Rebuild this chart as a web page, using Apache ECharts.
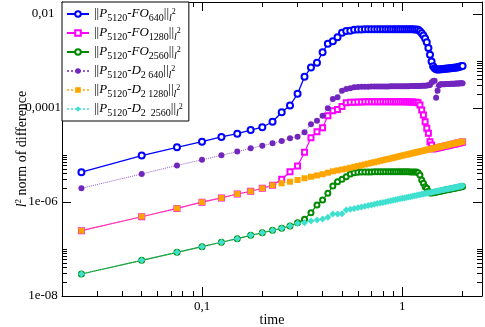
<!DOCTYPE html>
<html>
<head>
<meta charset="utf-8">
<script src="https://cdn.jsdelivr.net/npm/echarts@6/dist/echarts.min.js"></script>
<style>
  html, body { margin: 0; padding: 0; background: #fff; }
  #chart { width: 485px; height: 327px; }
</style>
</head>
<body>
<div id="chart"></div>
<script>
// time steps (dt = 0.025)
const times = [0.025, 0.05, 0.075, 0.1, 0.125, 0.15, 0.175, 0.2, 0.225, 0.25,
  0.275, 0.3, 0.325, 0.35, 0.375, 0.4, 0.425, 0.45, 0.475, 0.5,
  0.525, 0.55, 0.575, 0.6, 0.625, 0.65, 0.675, 0.7, 0.725, 0.75,
  0.775, 0.8, 0.825, 0.85, 0.875, 0.9, 0.925, 0.95, 0.975, 1.0,
  1.025, 1.05, 1.075, 1.1, 1.125, 1.15, 1.175, 1.2, 1.225, 1.25,
  1.275, 1.3, 1.325, 1.35, 1.375, 1.4, 1.425, 1.45, 1.475, 1.5,
  1.525, 1.55, 1.575, 1.6, 1.625, 1.65, 1.675, 1.7, 1.725, 1.75,
  1.775, 1.8, 1.825, 1.85, 1.875, 1.9, 1.925, 1.95, 1.975, 2.0];

const fo640 = [4.3e-6, 9.7e-6, 1.46e-5, 1.92e-5, 2.42e-5, 2.84e-5, 3.4e-5, 3.9e-5, 5.1e-5, 8.1e-5,
  1.13e-4, 2.0e-4, 4.6e-4, 7.3e-4, 9.2e-4, 1.53e-3, 2.33e-3, 2.62e-3, 3.19e-3, 4.0e-3,
  4.35e-3, 4.4e-3, 4.6e-3, 4.68e-3, 4.7e-3, 4.72e-3, 4.73e-3, 4.74e-3, 4.74e-3, 4.75e-3,
  4.75e-3, 4.75e-3, 4.76e-3, 4.76e-3, 4.76e-3, 4.76e-3, 4.76e-3, 4.75e-3, 4.75e-3, 4.75e-3,
  4.74e-3, 4.74e-3, 4.73e-3, 4.72e-3, 4.71e-3, 4.7e-3, 4.68e-3, 4.6e-3, 4.3e-3, 3.9e-3,
  3.5e-3, 3.0e-3, 2.5e-3, 1.9e-3, 1.35e-3, 9.7e-4, 7.7e-4, 7.0e-4, 6.7e-4, 6.6e-4,
  6.6e-4, 6.65e-4, 6.7e-4, 6.75e-4, 6.8e-4, 6.85e-4, 6.9e-4, 6.95e-4, 7.0e-4, 7.05e-4,
  7.1e-4, 7.15e-4, 7.2e-4, 7.25e-4, 7.3e-4, 7.4e-4, 7.5e-4, 7.6e-4, 7.7e-4, 7.8e-4];

const fo1280 = [2.45e-7, 4.86e-7, 7.3e-7, 9.9e-7, 1.22e-6, 1.48e-6, 1.69e-6, 1.96e-6, 2.26e-6, 3.04e-6,
  4.41e-6, 5.83e-6, 1.14e-5, 2.33e-5, 3.13e-5, 3.81e-5, 6.86e-5, 8.77e-5, 9.3e-5, 1.07e-4,
  1.3e-4, 1.32e-4, 1.33e-4, 1.34e-4, 1.34e-4, 1.35e-4, 1.35e-4, 1.35e-4, 1.35e-4, 1.36e-4,
  1.36e-4, 1.36e-4, 1.36e-4, 1.36e-4, 1.36e-4, 1.36e-4, 1.36e-4, 1.36e-4, 1.35e-4, 1.35e-4,
  1.35e-4, 1.35e-4, 1.34e-4, 1.34e-4, 1.34e-4, 1.33e-4, 1.33e-4, 1.3e-4, 1.16e-4, 9.1e-5,
  7.1e-5, 5.1e-5, 3.7e-5, 2.9e-5, 1.92e-5, 1.63e-5, 1.34e-5, 1.37e-5, 1.39e-5, 1.41e-5,
  1.44e-5, 1.46e-5, 1.48e-5, 1.51e-5, 1.53e-5, 1.55e-5, 1.58e-5, 1.6e-5, 1.62e-5, 1.65e-5,
  1.67e-5, 1.69e-5, 1.72e-5, 1.74e-5, 1.77e-5, 1.79e-5, 1.81e-5, 1.84e-5, 1.86e-5, 1.88e-5];

const fo2560 = [2.94e-8, 5.75e-8, 8.5e-8, 1.12e-7, 1.39e-7, 1.66e-7, 1.95e-7, 2.22e-7, 2.5e-7, 2.76e-7,
  3.1e-7, 3.6e-7, 4.29e-7, 5.92e-7, 8.63e-7, 1.1e-6, 1.53e-6, 2.19e-6, 2.7e-6, 3.04e-6,
  3.45e-6, 3.94e-6, 4.2e-6, 4.3e-6, 4.33e-6, 4.35e-6, 4.36e-6, 4.37e-6, 4.38e-6, 4.38e-6,
  4.39e-6, 4.39e-6, 4.39e-6, 4.4e-6, 4.4e-6, 4.4e-6, 4.4e-6, 4.4e-6, 4.39e-6, 4.39e-6,
  4.39e-6, 4.38e-6, 4.38e-6, 4.37e-6, 4.36e-6, 4.35e-6, 4.33e-6, 4.2e-6, 3.75e-6, 2.94e-6,
  2.5e-6, 2.1e-6, 1.96e-6, 1.7e-6, 1.55e-6, 1.55e-6, 1.57e-6, 1.6e-6, 1.62e-6, 1.65e-6,
  1.67e-6, 1.7e-6, 1.72e-6, 1.75e-6, 1.77e-6, 1.79e-6, 1.82e-6, 1.84e-6, 1.87e-6, 1.89e-6,
  1.92e-6, 1.94e-6, 1.96e-6, 1.99e-6, 2.01e-6, 2.04e-6, 2.06e-6, 2.08e-6, 2.11e-6, 2.13e-6];

const d640 = [1.96e-6, 3.94e-6, 6.0e-6, 7.9e-6, 9.86e-6, 1.18e-5, 1.39e-5, 1.58e-5, 1.77e-5, 1.99e-5,
  2.27e-5, 2.45e-5, 3.04e-5, 4.5e-5, 5.37e-5, 6.86e-5, 9.86e-5, 1.55e-4, 1.69e-4, 2.33e-4,
  2.54e-4, 2.62e-4, 2.75e-4, 2.8e-4, 2.82e-4, 2.83e-4, 2.84e-4, 2.85e-4, 2.86e-4, 2.86e-4,
  2.87e-4, 2.87e-4, 2.88e-4, 2.88e-4, 2.89e-4, 2.89e-4, 2.9e-4, 2.9e-4, 2.9e-4, 2.91e-4,
  2.91e-4, 2.92e-4, 2.92e-4, 2.93e-4, 2.93e-4, 2.94e-4, 2.94e-4, 2.95e-4, 2.95e-4, 2.96e-4,
  2.97e-4, 2.98e-4, 3.0e-4, 3.05e-4, 3.08e-4, 3.5e-4, 3.75e-4, 3.8e-4, 1.66e-4, 2.33e-4,
  3.0e-4, 3.19e-4, 3.2e-4, 3.21e-4, 3.22e-4, 3.23e-4, 3.24e-4, 3.25e-4, 3.26e-4, 3.27e-4,
  3.28e-4, 3.29e-4, 3.3e-4, 3.31e-4, 3.32e-4, 3.33e-4, 3.34e-4, 3.35e-4, 3.36e-4, 3.36e-4];

const d1280 = [2.45e-7, 4.9e-7, 7.3e-7, 9.9e-7, 1.22e-6, 1.48e-6, 1.69e-6, 1.96e-6, 2.26e-6, 2.5e-6,
  2.7e-6, 2.94e-6, 3.2e-6, 3.45e-6, 3.68e-6, 3.9e-6, 4.2e-6, 4.5e-6, 4.7e-6, 4.9e-6,
  5.1e-6, 5.35e-6, 5.6e-6, 5.82e-6, 6.05e-6, 6.3e-6, 6.55e-6, 6.8e-6, 7.0e-6, 7.25e-6,
  7.5e-6, 7.75e-6, 8.0e-6, 8.2e-6, 8.45e-6, 8.7e-6, 8.95e-6, 9.2e-6, 9.45e-6, 9.7e-6,
  9.95e-6, 1.02e-5, 1.04e-5, 1.07e-5, 1.09e-5, 1.12e-5, 1.14e-5, 1.17e-5, 1.19e-5, 1.21e-5,
  1.24e-5, 1.26e-5, 1.29e-5, 1.31e-5, 1.33e-5, 1.36e-5, 1.38e-5, 1.41e-5, 1.43e-5, 1.45e-5,
  1.48e-5, 1.5e-5, 1.53e-5, 1.55e-5, 1.57e-5, 1.6e-5, 1.62e-5, 1.65e-5, 1.67e-5, 1.7e-5,
  1.72e-5, 1.74e-5, 1.77e-5, 1.79e-5, 1.82e-5, 1.84e-5, 1.86e-5, 1.89e-5, 1.91e-5, 1.93e-5];

const d2560 = [2.94e-8, 5.75e-8, 8.5e-8, 1.12e-7, 1.39e-7, 1.66e-7, 1.95e-7, 2.22e-7, 2.5e-7, 2.76e-7,
  3.08e-7, 3.52e-7, 3.63e-7, 3.94e-7, 4.14e-7, 4.35e-7, 4.72e-7, 5.56e-7, 5.56e-7, 5.6e-7,
  6.76e-7, 7.0e-7, 7.28e-7, 7.57e-7, 7.85e-7, 8.13e-7, 8.41e-7, 8.68e-7, 8.96e-7, 9.24e-7,
  9.51e-7, 9.79e-7, 1.006e-6, 1.033e-6, 1.06e-6, 1.087e-6, 1.114e-6, 1.141e-6, 1.168e-6, 1.195e-6,
  1.221e-6, 1.248e-6, 1.274e-6, 1.301e-6, 1.327e-6, 1.353e-6, 1.38e-6, 1.406e-6, 1.432e-6, 1.458e-6,
  1.484e-6, 1.51e-6, 1.536e-6, 1.562e-6, 1.588e-6, 1.614e-6, 1.64e-6, 1.665e-6, 1.691e-6, 1.717e-6,
  1.742e-6, 1.768e-6, 1.793e-6, 1.818e-6, 1.844e-6, 1.869e-6, 1.894e-6, 1.92e-6, 1.945e-6, 1.97e-6,
  1.995e-6, 2.02e-6, 2.045e-6, 2.07e-6, 2.095e-6, 2.12e-6, 2.145e-6, 2.17e-6, 2.195e-6, 2.22e-6];

const seriesNames = ['||P5120-FO640||l2', '||P5120-FO1280||l2', '||P5120-FO2560||l2',
  '||P5120-D2 640||l2', '||P5120-D2 1280||l2', '||P5120-D2 2560||l2'];
const legendLabels = [
  '||{i|P}{s|5120}-{i|FO}{s|640}||{l|l}{sp|2}',
  '||{i|P}{s|5120}-{i|FO}{s|1280}||{l|l}{sp|2}',
  '||{i|P}{s|5120}-{i|FO}{s|2560}||{l|l}{sp|2}',
  '||{i|P}{s|5120}-{i|D}{s|2 640}||{l|l}{sp|2}',
  '||{i|P}{s|5120}-{i|D}{s|2 1280}||{l|l}{sp|2}',
  '||{i|P}{s|5120}-{i|D}{s|2  2560}||{l|l}{sp|2}'
];

const xMajorTicks = [0.1, 1];
const xTickLabels = ['0,1', '1'];
const xMinorTicks = [0.03, 0.04, 0.05, 0.06, 0.07, 0.08, 0.09,
  0.2, 0.3, 0.4, 0.5, 0.6, 0.7, 0.8, 0.9, 2];
const yMajorTicks = [1e-8, 1e-6, 1e-4, 1e-2];
const yTickLabels = ['1e-08', '1e-06', '0,0001', '0,01'];
const yMinorTicks = [2e-8, 3e-8, 4e-8, 5e-8, 6e-8, 7e-8, 8e-8, 9e-8, 1e-7,
  2e-6, 3e-6, 4e-6, 5e-6, 6e-6, 7e-6, 8e-6, 9e-6, 1e-5,
  2e-4, 3e-4, 4e-4, 5e-4, 6e-4, 7e-4, 8e-4, 9e-4, 1e-3];

const FONT = 'Liberation Serif';
const xMin = 0.02, xMax = 2.5;
const yMin = 1e-8, yMax = 0.018;

function pickLabel(v, ticks, labels) {
  let best = 0;
  ticks.forEach((t, i) => {
    if (Math.abs(Math.log10(t) - Math.log10(v)) < Math.abs(Math.log10(ticks[best]) - Math.log10(v))) best = i;
  });
  return labels[best];
}

function tickAxis(min, max, position, values, len, showLine) {
  return {
    type: 'log', logBase: 10, min: min, max: max, position: position,
    splitLine: { show: false },
    axisLine: { show: !!showLine, lineStyle: { color: '#000', width: 1 } },
    axisLabel: { show: false },
    axisTick: { show: true, inside: true, length: len, customValues: values,
      lineStyle: { color: '#000', width: 1 } }
  };
}

const chart = echarts.init(document.getElementById('chart'), null, { renderer: 'canvas' });

const mainX = tickAxis(xMin, xMax, 'bottom', xMajorTicks, 9, true);
mainX.axisLabel = { show: true, customValues: xMajorTicks, margin: 4, color: '#000',
  fontFamily: FONT, fontSize: 13, formatter: v => pickLabel(v, xMajorTicks, xTickLabels) };
mainX.name = 'time';
mainX.nameLocation = 'middle';
mainX.nameGap = 17;
mainX.nameMoveOverlap = false;
mainX.nameTextStyle = { fontFamily: FONT, fontSize: 14, color: '#000' };

const mainY = tickAxis(yMin, yMax, 'left', yMajorTicks, 9, true);
mainY.axisLabel = { show: true, customValues: yMajorTicks, margin: 19, align: 'center', color: '#000',
  fontFamily: FONT, fontSize: 13, formatter: v => pickLabel(v, yMajorTicks, yTickLabels) };
mainY.name = '{l|l}{sp|2} norm of difference';
mainY.nameLocation = 'middle';
mainY.nameGap = 31;
mainY.nameMoveOverlap = false;
mainY.nameTextStyle = { fontFamily: FONT, fontSize: 14, color: '#000', lineHeight: 18,
  rich: {
    l: { fontFamily: FONT, fontStyle: 'italic', fontSize: 14, lineHeight: 18, color: '#000' },
    sp: { fontFamily: FONT, fontSize: 9, verticalAlign: 'top', padding: [1, 0, 0, 0], color: '#000' }
  } };

const styles = [
  { color: '#0000ff', symbol: 'emptyCircle', size: 6, width: 1.3, type: 'solid' },
  { color: '#ff00ff', symbol: 'emptyRect', size: 5, width: 1.2, type: 'solid' },
  { color: '#008a00', symbol: 'emptyCircle', size: 5, width: 1.2, type: 'solid' },
  { color: '#7226be', symbol: 'circle', size: 6, width: 1, type: 'dotted' },
  { color: '#ffa500', symbol: 'rect', size: 6, width: 1, type: 'dotted' },
  { color: '#40e0d0', symbol: 'diamond', size: 7, width: 1, type: 'dotted' }
];
const values = [fo640, fo1280, fo2560, d640, d1280, d2560];

const option = {
  animation: false,
  textStyle: { fontFamily: FONT },
  grid: { left: 62, right: 3, top: 2, bottom: 31, containLabel: false, outerBoundsMode: 'none' },
  legend: {
    data: seriesNames,
    orient: 'vertical', left: 62, top: 2,
    padding: [3, 6, 3, 4], itemGap: 1, itemWidth: 22, itemHeight: 7,
    backgroundColor: '#fff', borderColor: '#000', borderWidth: 1, borderRadius: 0,
    selectedMode: false,
    formatter: name => legendLabels[seriesNames.indexOf(name)],
    textStyle: {
      fontFamily: FONT, fontSize: 13, lineHeight: 18, color: '#000',
      rich: {
        i: { fontFamily: FONT, fontStyle: 'italic', fontSize: 13, lineHeight: 18, color: '#000' },
        s: { fontFamily: FONT, fontSize: 10, lineHeight: 10, verticalAlign: 'bottom', color: '#000' },
        l: { fontFamily: FONT, fontStyle: 'italic', fontSize: 10, lineHeight: 10, verticalAlign: 'bottom', color: '#000' },
        sp: { fontFamily: FONT, fontSize: 8, verticalAlign: 'top', padding: [3, 0, 0, 0], color: '#000' }
      }
    }
  },
  xAxis: [
    mainX,
    tickAxis(xMin, xMax, 'bottom', xMinorTicks, 5, false),
    tickAxis(xMin, xMax, 'top', xMajorTicks, 9, true),
    tickAxis(xMin, xMax, 'top', xMinorTicks, 5, false)
  ],
  yAxis: [
    mainY,
    tickAxis(yMin, yMax, 'left', yMinorTicks, 5, false),
    tickAxis(yMin, yMax, 'right', yMajorTicks, 9, true),
    tickAxis(yMin, yMax, 'right', yMinorTicks, 5, false)
  ],
  series: seriesNames.map((name, k) => {
    const st = styles[k];
    return {
      name: name,
      type: 'line',
      xAxisIndex: 0,
      yAxisIndex: 0,
      data: times.map((t, i) => [t, values[k][i]]),
      symbol: st.symbol,
      symbolSize: st.size,
      showSymbol: true,
      color: st.color,
      itemStyle: { color: st.color, borderWidth: st.symbol.indexOf('empty') === 0 ? 1 : 0 },
      lineStyle: { color: st.color, width: st.width, type: st.type, opacity: st.type === 'dotted' ? 0.75 : 1 },
      emphasis: { disabled: true },
      z: 2 + k
    };
  })
};

chart.setOption(option);
</script>
</body>
</html>
